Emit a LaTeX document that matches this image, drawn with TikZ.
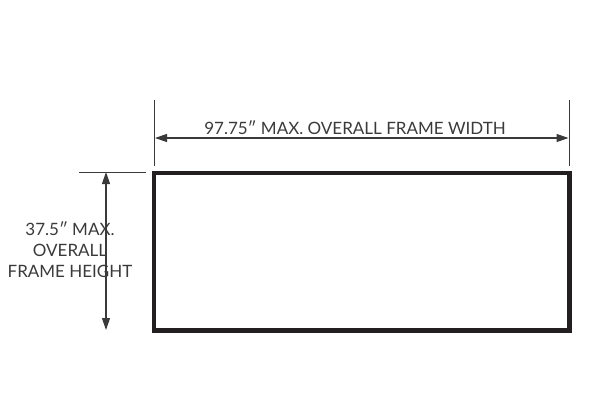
\documentclass[tikz,border=0pt]{standalone}
\usepackage{fontspec}
\setmainfont{Lato}
\usetikzlibrary{arrows.meta}
\definecolor{framecol}{HTML}{231F20}
\definecolor{dimcol}{HTML}{3A3A3A}
\tikzstyle{frame} = [draw=framecol, line width=4.5pt, rectangle,
    minimum width=415.5pt, minimum height=157.5pt, inner sep=0pt]
\tikzstyle{ext} = [draw=dimcol, line width=1pt]
\tikzstyle{dim} = [draw=dimcol, line width=1.2pt,
    {Triangle[length=12pt,width=8pt]}-{Triangle[length=12pt,width=8pt]}]
\tikzstyle{dimtext} = [text=dimcol, font=\fontsize{17}{21}\selectfont,
    inner sep=0pt, align=center]

\begin{document}
\begin{tikzpicture}[x=1pt, y=-1pt]
\useasboundingbox (0,0) rectangle (600,400);
% Frame
\node [frame] (frame) at (361.75,251.75) {};

% Width dimension
\coordinate (wtopL) at (154,100);
\coordinate (wbotL) at (154,166);
\coordinate (wtopR) at (569.5,100);
\coordinate (wbotR) at (569.5,166);
\coordinate (warrL) at (155,138);
\coordinate (warrR) at (568.5,138);
\node [dimtext] (wlabel) at (355,127.5) {97.75″ MAX. OVERALL FRAME WIDTH};

% Height dimension
\coordinate (hextL) at (79,172);
\coordinate (hextR) at (146,172);
\coordinate (harrT) at (106,172);
\coordinate (harrB) at (106,330);
\node [dimtext] (hlabel) at (70,250) {37.5″ MAX.\\OVERALL\\FRAME HEIGHT};

% Draw lines
\path [ext] (wtopL) -- (wbotL);
\path [ext] (wtopR) -- (wbotR);
\path [dim] (warrL) -- (warrR);
\path [ext] (hextL) -- (hextR);
\path [dim] (harrT) -- (harrB);
\end{tikzpicture}
\end{document}
